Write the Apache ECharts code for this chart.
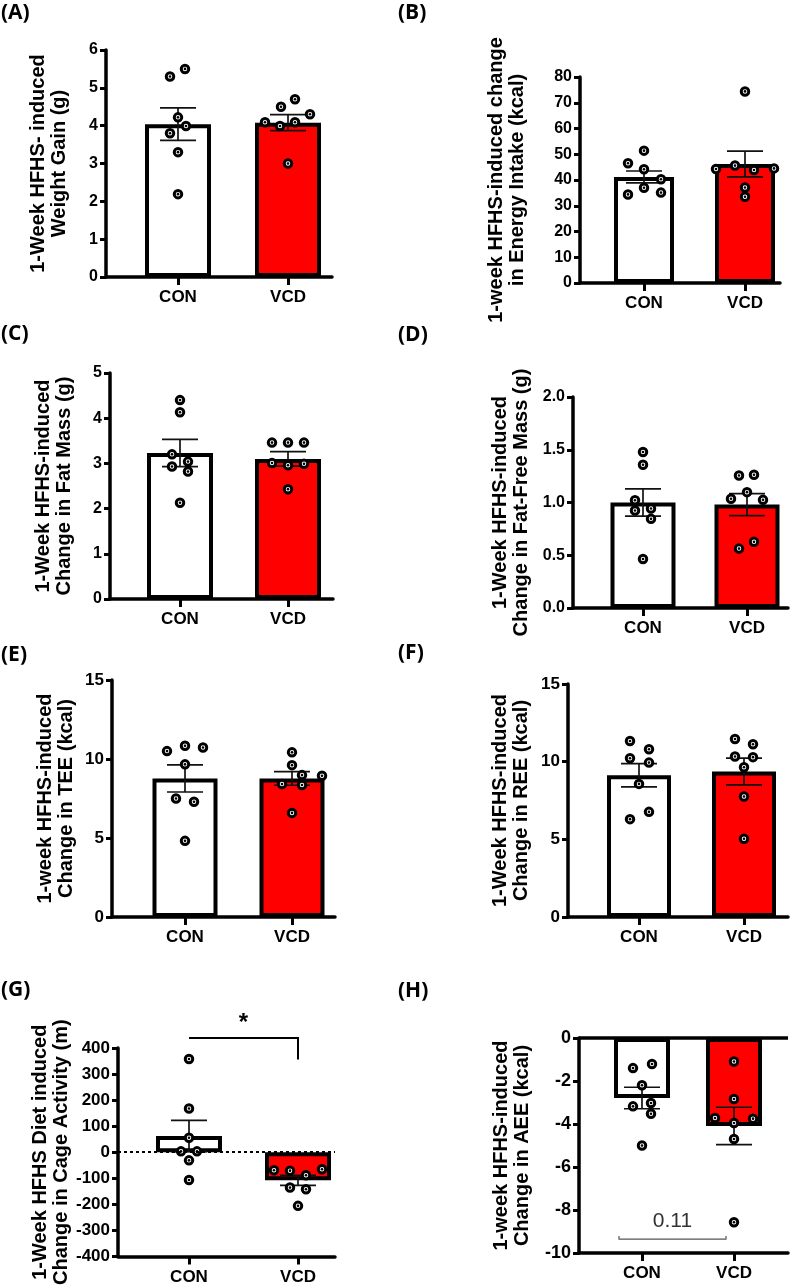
<!DOCTYPE html>
<html>
<head>
<meta charset="utf-8">
<script src="https://cdn.jsdelivr.net/npm/echarts@6/dist/echarts.min.js"></script>
<style>
  html, body { margin: 0; background: #fff; }
  #chart { width: 790px; height: 1287px; }
</style>
</head>
<body>
<div id="chart"></div>
<script>
const groups = ['CON', 'VCD'];

// (A) weight gain, g
const weightCon = [5.3, 5.5, 4.22, 3.99, 3.8, 3.3, 2.19];
const weightVcd = [4.09, 3.99, 4.5, 4.7, 4.09, 4.3, 3.0];
const weightMean = [4.04, 4.08];
const weightSem = [0.43, 0.21];
// (B) energy intake, kcal
const intakeCon = [51.4, 46.5, 44.2, 40.3, 37.0, 34.4, 35.1];
const intakeVcd = [74.4, 45.6, 44.3, 43.9, 44.5, 37.1, 33.5];
const intakeMean = [41.2, 46.2];
const intakeSem = [2.3, 5.0];
// (C) fat mass, g
const fatCon = [4.40, 4.13, 3.2, 2.93, 3.04, 2.82, 2.13];
const fatVcd = [3.46, 3.46, 3.46, 3.01, 2.96, 2.99, 2.43];
const fatMean = [3.23, 3.10];
const fatSem = [0.30, 0.16];
// (D) fat-free mass, g
const leanCon = [1.478, 1.358, 1.022, 0.924, 0.943, 0.845, 0.465];
const leanVcd = [1.256, 1.263, 1.098, 1.035, 1.025, 0.563, 0.627];
const leanMean = [1.00, 0.98];
const leanSem = [0.13, 0.105];
// (E) TEE, kcal
const teeCon = [10.5, 10.84, 10.73, 9.66, 7.5, 7.29, 4.82];
const teeVcd = [10.42, 9.61, 8.98, 8.94, 8.41, 8.35, 6.59];
const teeMean = [8.77, 8.77];
const teeSem = [0.86, 0.43];
// (F) REE, kcal
const reeCon = [11.33, 10.8, 10.22, 9.94, 8.57, 6.3, 6.77];
const reeVcd = [11.46, 11.12, 10.33, 10.29, 9.64, 7.76, 5.04];
const reeMean = [9.13, 9.37];
const reeSem = [0.75, 0.86];
// (G) cage activity, m
const cageCon = [357.8, 167.7, 55.5, 3.2, 3.2, -31.3, -106.5];
const cageVcd = [-69.5, -70.8, -88.6, -65.7, -135.8, -142.2, -206];
const cageMean = [62, -108];
const cageSem = [60, 19];
// (H) AEE, kcal
const aeeCon = [-1.40, -1.21, -2.2, -3.18, -3.02, -3.52, -5.0];
const aeeVcd = [-1.09, -2.84, -3.72, -3.75, -3.95, -4.7, -8.57];
const aeeMean = [-2.79, -4.09];
const aeeSem = [0.5, 0.87];

// horizontal dot spread (px) so overlapping points sit side by side
const jitter = {
  A: [[-8, 7, 0, 8, -8, 0, 0], [-23, -8, -7, 7, 7, 22, 0]],
  B: [[0, -16, 0, 17, 0, -16, 17], [0, -10, -29, 9, 29, 0, 0]],
  C: [[0, 0, -8, -8, 8, 8, 0], [-16, 0, 16, -16, 0, 16, 0]],
  D: [[0, 0, -8, -8, 8, 8, 0], [-8, 7, 0, -16, 16, -8, 7]],
  E: [[-18, 0, 18, 0, -9, 9, 0], [0, 0, 10, 30, -10, 10, 0]],
  F: [[-9, 10, -9, 10, 0, -9, 10], [-9, 9, -9, 9, 0, 0, 0]],
  G: [[0, 0, 0, -8, 8, 0, 0], [-24, -8, 8, 24, -8, 8, 0]],
  H: [[-9, 10, 0, -9, 9, 9, 0], [0, 0, -19, 19, 0, 0, 0]]
};

const panels = [
  { key: 'A', con: weightCon, vcd: weightVcd, mean: weightMean, sem: weightSem,
    title: '1-Week HFHS- induced\nWeight Gain (g)', min: 0, max: 6, interval: 1,
    box: { left: 106, top: 50, width: 226, height: 227, conX: 178, vcdX: 288, barW: 66, gap: 36, tick: 16, lx: 1, ly: 15 } },
  { key: 'B', con: intakeCon, vcd: intakeVcd, mean: intakeMean, sem: intakeSem,
    title: '1-week HFHS-induced change\nin Energy Intake (kcal)', min: 0, max: 80, interval: 10,
    box: { left: 580, top: 77, width: 200, height: 206, conX: 644, vcdX: 745, barW: 60, gap: 52, tick: 16, lx: 398, ly: 15 } },
  { key: 'C', con: fatCon, vcd: fatVcd, mean: fatMean, sem: fatSem,
    title: '1-Week HFHS-induced\nChange in Fat Mass (g)', min: 0, max: 5, interval: 1,
    box: { left: 110, top: 373, width: 223, height: 226, conX: 180, vcdX: 288, barW: 66, gap: 35, tick: 16, lx: 1, ly: 336 } },
  { key: 'D', con: leanCon, vcd: leanVcd, mean: leanMean, sem: leanSem,
    title: '1-Week HFHS-induced\nChange in Fat-Free Mass (g)', min: 0, max: 2, interval: 0.5, decimals: 1,
    box: { left: 573, top: 397, width: 215, height: 211, conX: 643, vcdX: 747, barW: 65, gap: 41, tick: 16, lx: 398, ly: 337 } },
  { key: 'E', con: teeCon, vcd: teeVcd, mean: teeMean, sem: teeSem,
    title: '1-week HFHS-induced\nChange in TEE (kcal)', min: 0, max: 15, interval: 5,
    box: { left: 112, top: 680, width: 223, height: 237, conX: 185, vcdX: 292, barW: 65, gap: 35, tick: 17, lx: 1, ly: 657 } },
  { key: 'F', con: reeCon, vcd: reeVcd, mean: reeMean, sem: reeSem,
    title: '1-Week HFHS-induced\nChange in REE (kcal)', min: 0, max: 15, interval: 5,
    box: { left: 568, top: 684, width: 220, height: 233, conX: 639, vcdX: 744, barW: 64, gap: 36, tick: 17, lx: 398, ly: 655 } },
  { key: 'G', con: cageCon, vcd: cageVcd, mean: cageMean, sem: cageSem,
    title: '1-Week HFHS Diet induced\nChange in Cage Activity (m)', min: -400, max: 400, interval: 100,
    zeroLine: 'dotted',
    bracket: { x1: 1, x2: 2, y: 438, drop: 356, text: '*', color: '#000', width: 2, bold: true },
    box: { left: 118, top: 1048, width: 217, height: 209, conX: 189, vcdX: 298, barW: 66, gap: 43, tick: 17, lx: 1, ly: 992 } },
  { key: 'H', con: aeeCon, vcd: aeeVcd, mean: aeeMean, sem: aeeSem,
    title: '1-week HFHS-induced\nChange in AEE (kcal)', min: -10, max: 0, interval: 2,
    zeroLine: 'solid',
    bracket: { x1: 0.75, x2: 1.913, y: -9.35, ends: 3, text: '0.11', color: '#555', width: 1.2, bold: false },
    box: { left: 579, top: 1038, width: 209, height: 215, conX: 642, vcdX: 734, barW: 56, gap: 46, tick: 18, lx: 398, ly: 993 } }
];

const FONT = '"Liberation Sans", Arial, sans-serif';
const chart = echarts.init(document.getElementById('chart'), null, { renderer: 'canvas' });

const option = { animation: false, backgroundColor: '#fff', grid: [], xAxis: [], yAxis: [], series: [], graphic: [] };

panels.forEach((p, i) => {
  const b = p.box;
  const step = b.vcdX - b.conX;
  option.grid.push({ left: b.left, top: b.top, width: b.width, height: b.height });
  option.xAxis.push({
    type: 'value', gridIndex: i,
    min: 1 - (b.conX - b.left) / step,
    max: 2 + (b.left + b.width - b.vcdX) / step,
    splitLine: { show: false },
    axisLine: { onZero: false, lineStyle: { color: '#000', width: 3.5 } },
    axisTick: { customValues: [1, 2], length: 8, lineStyle: { color: '#000', width: 3 } },
    axisLabel: { customValues: [1, 2], formatter: v => groups[Math.round(v) - 1], margin: 12,
      color: '#000', fontWeight: 'bold', fontSize: 17, fontFamily: FONT }
  });
  option.yAxis.push({
    type: 'value', gridIndex: i, min: p.min, max: p.max, interval: p.interval,
    name: p.title, nameLocation: 'middle', nameRotate: 90, nameGap: b.gap,
    nameTextStyle: { color: '#000', fontWeight: 'bold', fontSize: 20, lineHeight: 21, fontFamily: FONT },
    splitLine: { show: false },
    axisLine: { show: true, onZero: false, lineStyle: { color: '#000', width: 3.5 } },
    axisTick: { show: true, length: 6, lineStyle: { color: '#000', width: 3 } },
    axisLabel: { margin: 8, color: '#000', fontWeight: 'bold', fontSize: b.tick, fontFamily: FONT,
      formatter: v => p.decimals ? v.toFixed(p.decimals) : String(v) }
  });

  const bar = {
    type: 'bar', xAxisIndex: i, yAxisIndex: i, barWidth: b.barW, z: 1,
    itemStyle: { borderColor: '#000', borderWidth: 4 },
    data: [
      { value: [1, p.mean[0]], itemStyle: { color: '#fff' } },
      { value: [2, p.mean[1]], itemStyle: { color: '#ff0000' } }
    ]
  };
  if (p.zeroLine) {
    bar.markLine = {
      silent: true, symbol: 'none', label: { show: false },
      lineStyle: p.zeroLine === 'dotted'
        ? { type: [3, 3], color: '#000', width: 2 }
        : { type: 'solid', color: '#000', width: 3.5 },
      data: [{ yAxis: 0 }]
    };
  }
  option.series.push(bar);

  // SEM whiskers
  option.series.push({
    type: 'custom', xAxisIndex: i, yAxisIndex: i, z: 3,
    data: p.mean.map((m, k) => [k + 1, m - p.sem[k], m + p.sem[k]]),
    renderItem: (params, api) => {
      const lo = api.coord([api.value(0), api.value(1)]);
      const hi = api.coord([api.value(0), api.value(2)]);
      const c = 18;
      const st = { stroke: '#111', lineWidth: 1.7 };
      return { type: 'group', children: [
        { type: 'line', shape: { x1: lo[0], y1: lo[1], x2: hi[0], y2: hi[1] }, style: st },
        { type: 'line', shape: { x1: lo[0] - c, y1: lo[1], x2: lo[0] + c, y2: lo[1] }, style: st },
        { type: 'line', shape: { x1: hi[0] - c, y1: hi[1], x2: hi[0] + c, y2: hi[1] }, style: st }
      ] };
    }
  });

  // individual animals: open ring + centre dot
  const pts = [];
  [p.con, p.vcd].forEach((arr, g) => {
    arr.forEach((v, k) => pts.push({ value: [g + 1, v], symbolOffset: [jitter[p.key][g][k], 0] }));
  });
  option.series.push({
    type: 'scatter', xAxisIndex: i, yAxisIndex: i, z: 4, symbol: 'circle', symbolSize: 7.5,
    itemStyle: { color: '#fff', borderColor: '#000', borderWidth: 3, opacity: 1 },
    data: pts
  });
  option.series.push({
    type: 'scatter', xAxisIndex: i, yAxisIndex: i, z: 5, symbol: 'circle', symbolSize: 2.6,
    itemStyle: { color: '#000', opacity: 1 },
    data: pts
  });

  if (p.bracket) {
    const br = p.bracket;
    option.series.push({
      type: 'custom', xAxisIndex: i, yAxisIndex: i, z: 6, clip: false,
      data: [[br.x1, br.x2, br.y, br.drop == null ? br.y : br.drop]],
      renderItem: (params, api) => {
        const a = api.coord([api.value(0), api.value(2)]);
        const e = api.coord([api.value(1), api.value(2)]);
        const d = api.coord([api.value(1), api.value(3)]);
        const st = { stroke: br.color, lineWidth: br.width, fill: null };
        const kids = [];
        if (br.ends) {
          kids.push({ type: 'polyline', shape: { points: [[a[0], a[1] - br.ends], a, e, [e[0], e[1] - br.ends]] }, style: st });
        } else {
          kids.push({ type: 'polyline', shape: { points: [a, e, d] }, style: st });
        }
        kids.push({ type: 'text', x: (a[0] + e[0]) / 2, y: a[1] - (br.bold ? 3 : 7),
          style: { text: br.text, textAlign: 'center', textVerticalAlign: 'bottom',
            fontSize: br.bold ? 24 : 21, fontWeight: br.bold ? 'bold' : 'normal',
            fontFamily: FONT, fill: br.bold ? '#000' : '#333' } });
        return { type: 'group', children: kids };
      }
    });
  }

  option.graphic.push({
    type: 'text', left: b.lx, top: b.ly - 12,
    style: { text: '(' + p.key + ')', fontSize: 21, fontWeight: 'bold', fontFamily: '"Open Sans", Lato, sans-serif', fill: '#000' }
  });
});

chart.setOption(option);
</script>
</body>
</html>
